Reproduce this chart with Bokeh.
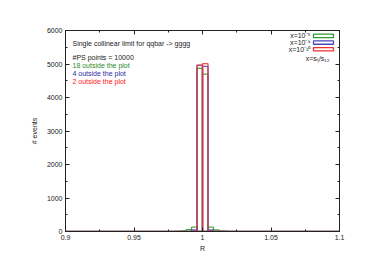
from bokeh.plotting import figure
from bokeh.models import Range1d, LinearAxis, FixedTicker, ColumnDataSource
from bokeh.embed import file_html
from bokeh.resources import INLINE
from bokeh.core.properties import value

# ---- data ----
bin_width = 0.004
bin_lo = [0.980, 0.984, 0.988, 0.992, 0.996, 1.000, 1.004, 1.008, 1.012, 1.016]
counts_green = [8, 15, 55, 130, 4871, 4700, 130, 50, 15, 8]   # x=1e-8
counts_blue = [0, 0, 3, 50, 4965, 4930, 45, 3, 0, 0]          # x=1e-9
counts_red = [0, 0, 0, 14, 4960, 5010, 14, 0, 0, 0]           # x=1e-10
legend_labels = ["x=10\u207b\u2078", "x=10\u207b\u2079", "x=10\u207b\u00b9\u2070"]
outside_counts = [18, 4, 2]
n_points = 10000
title_text = "Single collinear limit for qqbar -> gggg"

x_ticks = [0.9, 0.95, 1.0, 1.05, 1.1]
x_tick_labels = ["0.9", "0.95", "1", "1.05", "1.1"]
x_minor = [0.925, 0.975, 1.025, 1.075]
y_ticks = [0, 1000, 2000, 3000, 4000, 5000, 6000]
y_minor = [500, 1500, 2500, 3500, 4500, 5500]

GREEN = "#2e9a2e"
BLUE = "#4646c0"
RED = "#f23030"
FONT = "Liberation Sans"

p = figure(width=366, height=254, output_backend="svg", toolbar_location=None,
           x_range=Range1d(0.9, 1.1), y_range=Range1d(0, 6000),
           min_border_left=65, min_border_right=27, min_border_top=30, min_border_bottom=23)
p.xgrid.visible = False
p.ygrid.visible = False
p.outline_line_color = "#222222"
p.outline_line_width = 1
p.background_fill_color = "white"
p.border_fill_color = "white"

def style_axis(ax, ticks, minor, show_labels):
    ax.ticker = FixedTicker(ticks=ticks, minor_ticks=minor)
    ax.major_tick_in = 4
    ax.major_tick_out = 0
    ax.minor_tick_in = 2
    ax.minor_tick_out = 0
    ax.axis_line_color = "#222222"
    ax.major_tick_line_color = "#222222"
    ax.minor_tick_line_color = "#222222"
    ax.major_label_text_font = FONT
    ax.major_label_text_font_size = "7px"
    ax.major_label_text_color = "#222222"
    ax.major_label_standoff = 3 if show_labels else 0
    if not show_labels:
        ax.major_label_overrides = {t: "" for t in ticks}

style_axis(p.xaxis[0], x_ticks, x_minor, True)
style_axis(p.yaxis[0], y_ticks, y_minor, True)
p.xaxis[0].major_label_overrides = {t: l for t, l in zip(x_ticks, x_tick_labels)}
p.xaxis[0].axis_label = "R"
p.yaxis[0].axis_label = "# events"
for ax in (p.xaxis[0], p.yaxis[0]):
    ax.axis_label_text_font = FONT
    ax.axis_label_text_font_size = "7px"
    ax.axis_label_text_font_style = "normal"
    ax.axis_label_text_color = "#222222"
p.xaxis[0].axis_label_standoff = 2
p.yaxis[0].axis_label_standoff = 6

top_ax = LinearAxis()
style_axis(top_ax, x_ticks, x_minor, False)
p.add_layout(top_ax, "above")
right_ax = LinearAxis()
style_axis(right_ax, y_ticks, y_minor, False)
p.add_layout(right_ax, "right")

# full baseline of empty boxes across the range
all_lo = [round(0.9 + i * bin_width, 3) for i in range(50)]
for counts, col in ((counts_green, GREEN), (counts_blue, BLUE), (counts_red, RED)):
    lookup = {round(lo, 3): c for lo, c in zip(bin_lo, counts)}
    src = ColumnDataSource(dict(left=all_lo, right=[l + bin_width for l in all_lo],
                                top=[lookup.get(l, 0) for l in all_lo], bottom=[0] * len(all_lo)))
    p.quad(left="left", right="right", top="top", bottom="bottom", source=src,
           fill_alpha=0, line_color=col, line_width=1.3, line_alpha=0.85)

# annotation texts
txt_kw = dict(text_font=value(FONT), text_font_size="7px", text_baseline="middle", text_align="left")
p.text(x=[0.9051], y=[5620], text=[title_text], text_color="#222222", **txt_kw)
p.text(x=[0.9051], y=[5202], text=["#PS points =  %d" % n_points], text_color="#222222", **txt_kw)
for yy, n, col in zip([4963, 4703, 4463], outside_counts, ["#2a8a2a", "#2a2aa0", "#ff2020"]):
    p.text(x=[0.9051], y=[yy], text=["%d outside the plot" % n], text_color=col, **txt_kw)

# legend (manual, gnuplot style)
leg_y = [5840, 5640, 5440]
for yy, lab, col in zip(leg_y, legend_labels, [GREEN, BLUE, RED]):
    p.text(x=[1.0788], y=[yy], text=[lab], text_color="#222222",
           text_font=value(FONT), text_font_size="7px", text_baseline="middle", text_align="right")
    p.quad(left=[1.0810], right=[1.0956], top=[yy + 50], bottom=[yy - 50],
           fill_alpha=0, line_color=col, line_width=1.3)
p.text(x=[1.0840], y=[5172], text=["x=s\u1d62\u2c7c/s\u2081\u2082"], text_color="#222222",
       text_font=value(FONT), text_font_size="7px", text_baseline="middle", text_align="center")

open("out.html", "w").write(file_html(p, INLINE))
